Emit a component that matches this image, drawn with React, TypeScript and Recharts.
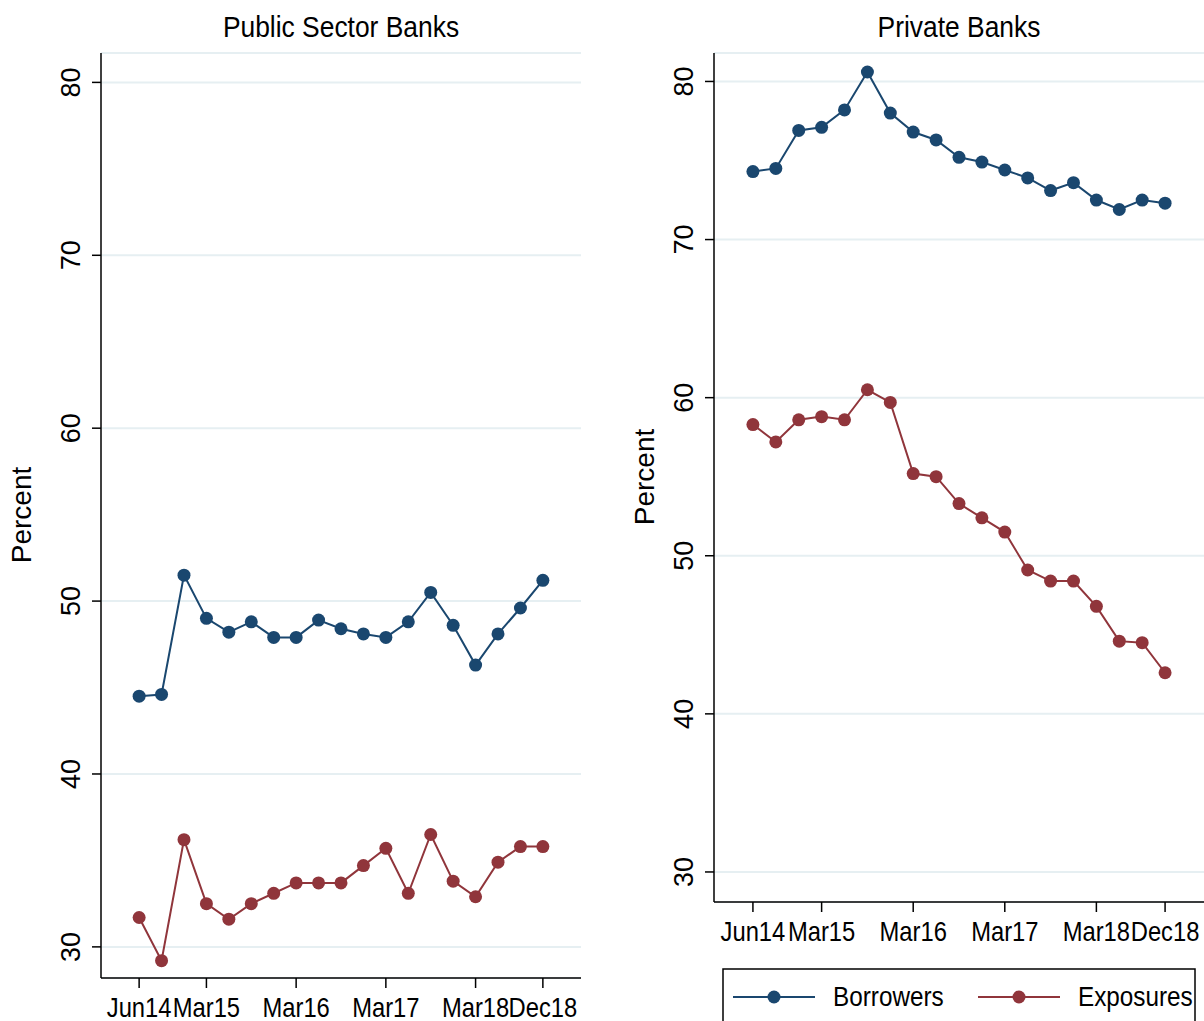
import React from "react";
import { LineChart, Line, XAxis, YAxis, CartesianGrid } from "recharts";

// quarterly observations, Jun14 .. Dec18
const quarters = [
  "Jun14", "Sep14", "Dec14", "Mar15", "Jun15", "Sep15", "Dec15", "Mar16", "Jun16", "Sep16",
  "Dec16", "Mar17", "Jun17", "Sep17", "Dec17", "Mar18", "Jun18", "Sep18", "Dec18",
];
const tickQuarters = ["Jun14", "Mar15", "Mar16", "Mar17", "Mar18", "Dec18"];
const yTicks = [30, 40, 50, 60, 70, 80];

const publicBorrowers = [44.5, 44.6, 51.5, 49.0, 48.2, 48.8, 47.9, 47.9, 48.9, 48.4, 48.1, 47.9, 48.8, 50.5, 48.6, 46.3, 48.1, 49.6, 51.2];
const publicExposures = [31.7, 29.2, 36.2, 32.5, 31.6, 32.5, 33.1, 33.7, 33.7, 33.7, 34.7, 35.7, 33.1, 36.5, 33.8, 32.9, 34.9, 35.8, 35.8];
const privateBorrowers = [74.3, 74.5, 76.9, 77.1, 78.2, 80.6, 78.0, 76.8, 76.3, 75.2, 74.9, 74.4, 73.9, 73.1, 73.6, 72.5, 71.9, 72.5, 72.3];
const privateExposures = [58.3, 57.2, 58.6, 58.8, 58.6, 60.5, 59.7, 55.2, 55.0, 53.3, 52.4, 51.5, 49.1, 48.4, 48.4, 46.8, 44.6, 44.5, 42.6];

const seriesNames = ["Borrowers", "Exposures"];
const NAVY = "#1a476f";
const MAROON = "#90353b";
const COLORS = [NAVY, MAROON];
const GRID = "#e6eff2";
const FONT = "'Liberation Sans', Arial, Helvetica, sans-serif";
const SQUEEZE = 0.88;

const tickIdx = tickQuarters.map((q) => quarters.indexOf(q));

function buildRows(borrowers: number[], exposures: number[]) {
  return quarters.map((q, i) => ({ idx: i, quarter: q, Borrowers: borrowers[i], Exposures: exposures[i] }));
}

const XTick = (props: any) => {
  const { x, y, payload } = props;
  return (
    <text
      transform={`translate(${x},${y + 29}) scale(${SQUEEZE},1)`}
      textAnchor="middle"
      fontSize={27}
      fontFamily={FONT}
      fill="#000"
    >
      {quarters[Math.round(payload.value)]}
    </text>
  );
};

const YTick = (props: any) => {
  const { x, y, payload } = props;
  return (
    <text
      transform={`translate(${x - 12},${y}) rotate(-90)`}
      textAnchor="middle"
      fontSize={27}
      fontFamily={FONT}
      fill="#000"
    >
      {payload.value}
    </text>
  );
};

const PercentLabel = ({ cx, cy }: { cx: number; cy: number }) => (
  <text
    transform={`translate(${cx},${cy}) rotate(-90)`}
    textAnchor="middle"
    fontSize={28}
    fontFamily={FONT}
    fill="#000"
  >
    Percent
  </text>
);

interface PanelProps {
  rows: any[];
  left: number;
  axisWidth: number;
  width: number;
  rightGap: number;
  xAxisHeight: number;
  yDomain: [number, number];
  labelX: number;
  labelY: number;
}

function Panel({ rows, left, axisWidth, width, rightGap, xAxisHeight, yDomain, labelX, labelY }: PanelProps) {
  return (
    <div style={{ position: "absolute", left, top: 0 }}>
      <LineChart
        width={width}
        height={1021}
        data={rows}
        margin={{ top: 53, right: rightGap, bottom: 0, left: 0 }}
      >
        <CartesianGrid vertical={false} stroke={GRID} strokeWidth={2} />
        <XAxis
          dataKey="idx"
          type="number"
          domain={[-1.7, 19.7]}
          ticks={tickIdx}
          interval={0}
          height={xAxisHeight}
          tickSize={10}
          tickMargin={0}
          tick={(p: any) => <XTick {...p} />}
          axisLine={{ stroke: "#000", strokeWidth: 1.5 }}
          tickLine={{ stroke: "#000", strokeWidth: 1.5 }}
          allowDataOverflow
        />
        <YAxis
          type="number"
          domain={yDomain}
          ticks={yTicks}
          interval={0}
          width={axisWidth}
          tickSize={9}
          tickMargin={0}
          tick={(p: any) => <YTick {...p} />}
          axisLine={{ stroke: "#000", strokeWidth: 1.5 }}
          tickLine={{ stroke: "#000", strokeWidth: 1.5 }}
          allowDataOverflow
          label={<PercentLabel cx={labelX} cy={labelY} />}
        />
        {seriesNames.map((name, i) => (
          <Line
            key={name}
            type="linear"
            dataKey={name}
            stroke={COLORS[i]}
            strokeWidth={2}
            dot={{ r: 6.5, fill: COLORS[i], stroke: COLORS[i], strokeWidth: 0 }}
            activeDot={false}
            isAnimationActive={false}
          />
        ))}
      </LineChart>
    </div>
  );
}

export default function App() {
  const publicRows = buildRows(publicBorrowers, publicExposures);
  const privateRows = buildRows(privateBorrowers, privateExposures);
  const legendX = [723 + 10, 723 + 255];
  return (
    <div
      style={{
        position: "absolute",
        left: 0,
        top: 0,
        width: 1204,
        height: 1021,
        overflow: "hidden",
        background: "#fff",
        fontFamily: FONT,
      }}
    >
      <Panel
        rows={publicRows}
        left={0}
        axisWidth={101}
        width={600}
        rightGap={19}
        xAxisHeight={43}
        yDomain={[28.2, 81.7]}
        labelX={31}
        labelY={515}
      />
      <Panel
        rows={privateRows}
        left={604}
        axisWidth={110}
        width={600}
        rightGap={0}
        xAxisHeight={119}
        yDomain={[28.1, 81.8]}
        labelX={50}
        labelY={477}
      />
      <svg
        width={1204}
        height={1021}
        style={{ position: "absolute", left: 0, top: 0, pointerEvents: "none" }}
      >
        <text x={341} y={37} textAnchor="middle" fontSize={30} fontFamily={FONT}
          transform={`translate(341,0) scale(${SQUEEZE},1) translate(-341,0)`}>
          Public Sector Banks
        </text>
        <text x={959} y={37} textAnchor="middle" fontSize={30} fontFamily={FONT}
          transform={`translate(959,0) scale(${SQUEEZE},1) translate(-959,0)`}>
          Private Banks
        </text>
        <rect x={723} y={969} width={472} height={80} fill="none" stroke="#000" strokeWidth={1.5} />
        {seriesNames.map((name, i) => (
          <g key={name}>
            <line x1={legendX[i]} x2={legendX[i] + 82} y1={997} y2={997} stroke={COLORS[i]} strokeWidth={2} />
            <circle cx={legendX[i] + 41} cy={997} r={6.5} fill={COLORS[i]} />
            <text
              transform={`translate(${legendX[i] + 100},1006) scale(0.9,1)`}
              fontSize={27}
              fontFamily={FONT}
            >
              {name}
            </text>
          </g>
        ))}
      </svg>
    </div>
  );
}
